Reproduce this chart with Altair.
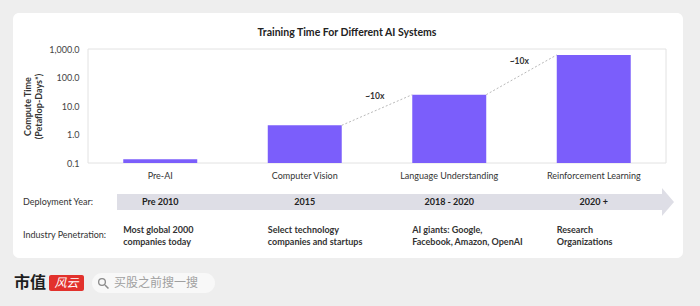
import altair as alt
import pandas as pd

# ---- data ----
systems = ["Pre-AI", "Computer Vision", "Language Understanding", "Reinforcement Learning"]
compute = [0.135, 2.1, 25, 620]
years = ["Pre 2010", "2015", "2018 - 2020", "2020 +"]
penetration = [
    "Most global 2000\ncompanies today",
    "Select technology\ncompanies and startups",
    "AI giants: Google,\nFacebook, Amazon, OpenAI",
    "Research\nOrganizations",
]
conn_from = ["Computer Vision", "Language Understanding"]
conn_to = ["Language Understanding", "Reinforcement Learning"]
conn_v1 = [2.1, 25]
conn_v2 = [25, 620]
conn_mid = [7.25, 124.5]
conn_label = ["~10x", "~10x"]
y_ticks = [0.1, 1, 10, 100, 1000]
y_base = 0.1

FONT = "Lato"
W, H = 578, 114
L, T = 88, 49

bars_df = pd.DataFrame({"system": systems, "compute": compute, "year": years, "pen": penetration})
conn_df = pd.DataFrame({"system": conn_from, "to": conn_to, "v1": conn_v1, "v2": conn_v2,
                        "mid": conn_mid, "label": conn_label})
dummy = pd.DataFrame({"a": [0]})

xscale = alt.Scale(domain=systems, paddingInner=0.488, paddingOuter=0.244)
yscale = alt.Scale(type="log", domain=[0.1, 1000], nice=False)
xaxis = alt.Axis(labelFont=FONT, labelFontSize=9, labelColor="#333", labelPadding=8,
                 ticks=False, domain=False, title=None, labelAngle=0, zindex=1)
yaxis = alt.Axis(values=y_ticks, format=",.1f", labelFont=FONT, labelFontSize=9,
                 labelColor="#444", labelPadding=9, ticks=False, domain=False, grid=False,
                 title=["Compute Time", "(Petaflop-Days*)"], titleFont=FONT, titleFontSize=9,
                 titleFontWeight="bold", titleColor="#333", titlePadding=5, zindex=1)


def X(field="system", **kw):
    return alt.X(f"{field}:N", scale=xscale, axis=xaxis, **kw)


def Y(field):
    return alt.Y(f"{field}:Q", scale=yscale, axis=yaxis)


base = alt.Chart(dummy)

card = base.mark_rect(fill="white", cornerRadius=6).encode(
    x=alt.value(13 - L), x2=alt.value(683 - L), y=alt.value(13 - T), y2=alt.value(258 - T))
frame = base.mark_rect(fill=None, stroke="#e2e2e2", strokeWidth=1).encode(
    x=alt.value(0), x2=alt.value(W), y=alt.value(0), y2=alt.value(H))
arrow_body = base.mark_rect(fill="#dedee6").encode(
    x=alt.value(117 - L), x2=alt.value(662 - L), y=alt.value(194 - T), y2=alt.value(210 - T))
arrow_head = base.mark_point(shape="M -0.43 -1 L 0.43 0 L -0.43 1 Z", filled=True,
                             fill="#dedee6", opacity=1, size=784).encode(
    x=alt.value(668 - L), y=alt.value(202 - T))

title = base.mark_text(text="Training Time For Different AI Systems", font=FONT, fontSize=10.5,
                       fontWeight="bold", color="#222").encode(
    x=alt.value(347 - L), y=alt.value(33 - T))

bars = alt.Chart(bars_df).mark_bar(color="#7B5EFB").encode(
    x=X(), y=Y("compute"), y2=alt.datum(y_base))

rules = alt.Chart(conn_df).mark_rule(color="#b0b0b0", strokeDash=[2, 2], strokeWidth=0.9).encode(
    x=X(bandPosition=1), x2=alt.X2("to", bandPosition=0), y=Y("v1"), y2="v2")

conn_text = alt.Chart(conn_df).mark_text(font=FONT, fontSize=8.5, fontWeight="bold", color="#333",
                                         dx=33, dy=-14).encode(
    x=X(bandPosition=1), y=Y("mid"), text="label:N")

row_label1 = base.mark_text(text="Deployment Year:", font=FONT, fontSize=9, color="#333",
                            align="left").encode(x=alt.value(23 - L), y=alt.value(202 - T))
row_label2 = base.mark_text(text="Industry Penetration:", font=FONT, fontSize=9, color="#333",
                            align="left").encode(x=alt.value(23 - L), y=alt.value(235 - T))

year_text = alt.Chart(bars_df).mark_text(font=FONT, fontSize=9, fontWeight="bold",
                                         color="#222").encode(
    x=X(), y=alt.value(202 - T), text="year:N")

pen_text = alt.Chart(bars_df).mark_text(font=FONT, fontSize=9, fontWeight="bold", color="#333",
                                        align="left", baseline="alphabetic", lineBreak="\n",
                                        lineHeight=11.5).encode(
    x=X(bandPosition=0), y=alt.value(233 - T), text="pen:N")

# bottom brand strip
logo1 = base.mark_text(text="市值", font="Noto Sans CJK SC", fontSize=16, fontWeight="bold",
                       color="#1e1e1e", align="left").encode(x=alt.value(14 - L), y=alt.value(283 - T))
logo_box = base.mark_rect(fill="#e2312c", cornerRadius=2).encode(
    x=alt.value(49 - L), x2=alt.value(84 - L), y=alt.value(275 - T), y2=alt.value(291 - T))
logo2 = base.mark_text(text="风云", font="Noto Sans CJK SC", fontSize=12, fontStyle="italic",
                       color="white").encode(x=alt.value(66.5 - L), y=alt.value(283 - T))
pill = base.mark_rect(fill="#f8f8f8", cornerRadius=10).encode(
    x=alt.value(92 - L), x2=alt.value(215 - L), y=alt.value(273 - T), y2=alt.value(293 - T))
glass = base.mark_point(shape="circle", filled=False, stroke="#8a8a8a", strokeWidth=1.3,
                        size=45, opacity=1).encode(x=alt.value(102 - L), y=alt.value(282 - T))
glass_h = base.mark_rule(stroke="#8a8a8a", strokeWidth=1.5).encode(
    x=alt.value(105 - L), x2=alt.value(108.5 - L), y=alt.value(285 - T), y2=alt.value(288.5 - T))
search = base.mark_text(text="买股之前搜一搜", font="Noto Sans CJK SC", fontSize=12,
                        color="#a0a0a0", align="left").encode(x=alt.value(114 - L), y=alt.value(283 - T))

chart = alt.layer(
    card, frame, arrow_body, arrow_head, title, bars, rules, conn_text,
    row_label1, row_label2, year_text, pen_text,
    logo1, logo_box, logo2, pill, glass, glass_h, search,
).properties(
    width=W, height=H,
    padding={"left": L, "top": T, "right": 700 - L - W, "bottom": 306 - T - H},
    autosize=alt.AutoSizeParams(type="none"),
).configure(background="#eeeeee").configure_view(stroke=None)

chart.save("out.html", embed_options={"renderer": "svg", "actions": False})
